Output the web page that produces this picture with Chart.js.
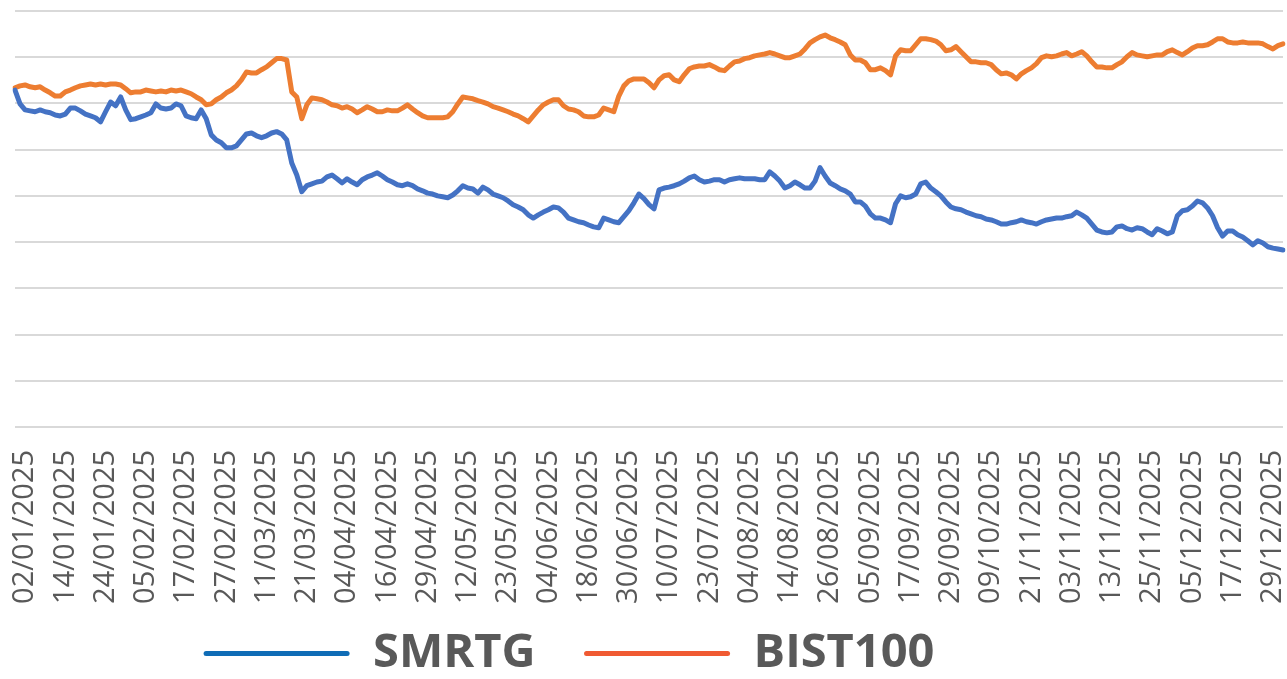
<!DOCTYPE html>
<html>
<head>
<meta charset="utf-8">
<title>SMRTG vs BIST100</title>
<script src="https://cdn.jsdelivr.net/npm/chart.js@4.4.1/dist/chart.umd.min.js"></script>
<style>
  html, body { margin: 0; padding: 0; background: #fff; }
  #wrap { width: 1287px; height: 679px; position: relative; }
</style>
</head>
<body>
<div id="wrap"><canvas id="perfChart"></canvas></div>
<script>
// x axis labels, one every 8 trading days
const tickLabels = [
  "02/01/2025", "14/01/2025", "24/01/2025", "05/02/2025", "17/02/2025", "27/02/2025",
  "11/03/2025", "21/03/2025", "04/04/2025", "16/04/2025", "29/04/2025", "12/05/2025",
  "23/05/2025", "04/06/2025", "18/06/2025", "30/06/2025", "10/07/2025", "23/07/2025",
  "04/08/2025", "14/08/2025", "26/08/2025", "05/09/2025", "17/09/2025", "29/09/2025",
  "09/10/2025", "21/11/2025", "03/11/2025", "13/11/2025", "25/11/2025", "05/12/2025",
  "17/12/2025", "29/12/2025"
];
const labelStart = 2;   // first labelled trading day
const labelStep = 8;

const smrtg = [
  72.9, 69.9, 68.6, 68.4, 68.2, 68.6, 68.2, 68.0, 67.5, 67.3,
  67.7, 69.0, 69.0, 68.4, 67.7, 67.3, 66.9, 66.0, 68.2, 70.3,
  69.5, 71.4, 68.6, 66.5, 66.7, 67.1, 67.5, 68.0, 69.9, 69.0,
  68.8, 69.0, 69.9, 69.5, 67.3, 66.9, 66.7, 68.6, 66.7, 63.2,
  62.1, 61.5, 60.4, 60.4, 60.8, 62.1, 63.4, 63.6, 63.0, 62.6,
  63.0, 63.6, 63.9, 63.4, 62.1, 57.1, 54.5, 50.9, 52.2, 52.6,
  53.0, 53.2, 54.1, 54.5, 53.7, 52.8, 53.7, 53.0, 52.4, 53.5,
  54.1, 54.5, 55.0, 54.3, 53.5, 53.0, 52.4, 52.2, 52.6, 52.2,
  51.5, 51.1, 50.6, 50.4, 50.0, 49.8, 49.6, 50.2, 51.1, 52.2,
  51.7, 51.5, 50.6, 51.9, 51.3, 50.4, 50.0, 49.6, 48.9, 48.1,
  47.6, 47.0, 45.9, 45.2, 45.9, 46.5, 47.0, 47.6, 47.4, 46.5,
  45.2, 44.8, 44.4, 44.2, 43.7, 43.3, 43.1, 45.2, 44.8, 44.4,
  44.2, 45.5, 46.8, 48.5, 50.4, 49.4, 48.1, 47.2, 51.3, 51.7,
  51.9, 52.2, 52.6, 53.2, 53.9, 54.3, 53.5, 53.0, 53.2, 53.5,
  53.5, 53.0, 53.5, 53.7, 53.9, 53.7, 53.7, 53.7, 53.5, 53.5,
  55.2, 54.3, 53.2, 51.7, 52.2, 53.0, 52.4, 51.7, 51.7, 53.2,
  56.1, 54.3, 52.8, 52.2, 51.5, 51.1, 50.4, 48.7, 48.7, 47.8,
  46.1, 45.2, 45.2, 44.8, 44.2, 48.3, 50.0, 49.6, 49.8, 50.4,
  52.6, 53.0, 51.7, 50.9, 50.0, 48.7, 47.6, 47.2, 47.0, 46.5,
  46.1, 45.7, 45.5, 45.0, 44.8, 44.4, 43.9, 43.9, 44.2, 44.4,
  44.8, 44.4, 44.2, 43.9, 44.4, 44.8, 45.0, 45.2, 45.2, 45.5,
  45.7, 46.5, 45.9, 45.2, 43.9, 42.6, 42.2, 42.0, 42.2, 43.3,
  43.5, 42.9, 42.6, 43.1, 42.9, 42.2, 41.6, 42.9, 42.4, 41.8,
  42.2, 45.7, 46.8, 47.0, 47.8, 48.9, 48.5, 47.4, 45.7, 43.1,
  41.3, 42.4, 42.4, 41.6, 41.1, 40.3, 39.4, 40.3, 39.8, 39.0,
  38.7, 38.5, 38.3
];

const bist100 = [
  73.4, 73.8, 74.0, 73.6, 73.4, 73.6, 72.9, 72.3, 71.6, 71.6,
  72.5, 72.9, 73.4, 73.8, 74.0, 74.2, 74.0, 74.2, 74.0, 74.2,
  74.2, 74.0, 73.2, 72.3, 72.5, 72.5, 72.9, 72.7, 72.5, 72.7,
  72.5, 72.9, 72.7, 72.9, 72.5, 72.1, 71.4, 70.8, 69.7, 69.9,
  70.8, 71.4, 72.3, 72.9, 73.8, 75.1, 76.8, 76.6, 76.6, 77.3,
  77.9, 78.8, 79.7, 79.7, 79.4, 72.5, 71.4, 66.7, 69.7, 71.2,
  71.0, 70.8, 70.3, 69.7, 69.5, 69.0, 69.3, 68.8, 68.0, 68.6,
  69.3, 68.8, 68.2, 68.2, 68.6, 68.4, 68.4, 69.0, 69.7, 68.8,
  68.0, 67.3, 66.9, 66.9, 66.9, 66.9, 67.1, 68.2, 69.9, 71.4,
  71.2, 71.0, 70.6, 70.3, 69.9, 69.3, 69.0, 68.6, 68.2, 67.7,
  67.3, 66.7, 66.0, 67.3, 68.6, 69.7, 70.3, 70.8, 70.8, 69.5,
  68.8, 68.6, 68.2, 67.3, 67.1, 67.1, 67.5, 69.0, 68.6, 68.2,
  71.6, 73.8, 74.9, 75.3, 75.3, 75.3, 74.5, 73.4, 75.1, 76.0,
  76.2, 75.1, 74.7, 76.2, 77.5, 77.9, 78.1, 78.1, 78.4, 77.9,
  77.3, 77.1, 78.1, 79.0, 79.2, 79.7, 79.9, 80.3, 80.5, 80.7,
  81.0, 80.7, 80.3, 79.9, 79.9, 80.3, 80.7, 81.8, 83.1, 83.8,
  84.4, 84.8, 84.2, 83.8, 83.3, 82.7, 80.5, 79.4, 79.4, 78.8,
  77.3, 77.3, 77.7, 77.1, 76.2, 80.3, 81.6, 81.4, 81.4, 82.7,
  84.0, 84.0, 83.8, 83.5, 82.7, 81.4, 81.6, 82.3, 81.2, 80.1,
  79.0, 79.0, 78.8, 78.8, 78.4, 77.3, 76.4, 76.6, 76.2, 75.3,
  76.4, 77.1, 77.7, 78.6, 79.9, 80.3, 80.1, 80.3, 80.7, 81.0,
  80.3, 80.7, 81.2, 80.3, 79.0, 77.9, 77.9, 77.7, 77.7, 78.4,
  79.0, 80.1, 81.0, 80.5, 80.3, 80.1, 80.3, 80.5, 80.5, 81.2,
  81.6, 81.0, 80.5, 81.2, 82.0, 82.5, 82.5, 82.7, 83.3, 84.0,
  84.0, 83.3, 83.1, 83.1, 83.3, 83.1, 83.1, 83.1, 82.9, 82.3,
  81.8, 82.5, 82.9
];

// one category per trading day, only every 8th one gets a text
const categories = [];
for (let i = 0; i < smrtg.length; i++) {
  const k = (i - labelStart) / labelStep;
  categories.push(Number.isInteger(k) && k >= 0 && k < tickLabels.length ? tickLabels[k] : "");
}

const textGrey = "#595959";

// legend sits a bit left and lower than chart.js would put it,
// and the x labels may run below the shortened x scale box
const layoutFix = {
  id: "layoutFix",
  afterLayout(chart) {
    const lg = chart.legend;
    if (lg) {
      lg.left -= 80;
      lg.right -= 80;
      lg.top += 8;
      lg.bottom += 8;
    }
    chart.scales.x.bottom = chart.height;
  }
};

const graph = document.getElementById("perfChart");

new Chart(graph, {
  type: "line",
  data: {
    labels: categories,
    datasets: [
      {
        label: "SMRTG",
        data: smrtg,
        borderColor: "#4472c4",
        legendColor: "#0f6cb6",
        borderWidth: 5,
        pointRadius: 0,
        tension: 0,
        borderJoinStyle: "round",
        borderCapStyle: "round"
      },
      {
        label: "BIST100",
        data: bist100,
        borderColor: "#ed7d31",
        legendColor: "#f05a32",
        borderWidth: 5,
        pointRadius: 0,
        tension: 0,
        borderJoinStyle: "round",
        borderCapStyle: "round"
      }
    ]
  },
  options: {
    responsive: true,
    maintainAspectRatio: false,
    animation: false,
    devicePixelRatio: 1,
    layout: {
      padding: { left: 15, right: 4, top: 11, bottom: 0 }
    },
    plugins: {
      tooltip: { enabled: false },
      legend: {
        position: "bottom",
        labels: {
          boxWidth: 146,
          boxHeight: 5,
          padding: 48.5,
          color: textGrey,
          font: { family: "'Open Sans'", size: 47, weight: "bold" },
          generateLabels: function(chart) {
            return chart.data.datasets.map((ds, i) => ({
              text: ds.label,
              fillStyle: ds.legendColor,
              strokeStyle: ds.legendColor,
              lineWidth: 0,
              borderRadius: 2.5,
              fontColor: textGrey,
              hidden: false,
              datasetIndex: i
            }));
          }
        }
      }
    },
    scales: {
      x: {
        grid: { display: false },
        border: { display: false },
        afterFit: function(scale) {
          scale.height = 146.5;
          scale.paddingLeft = 0;
          scale.paddingRight = 0;
        },
        ticks: {
          autoSkip: false,
          maxRotation: 90,
          minRotation: 90,
          padding: 15,
          color: textGrey,
          font: { family: "'Open Sans'", size: 29 }
        }
      },
      y: {
        min: 0,
        max: 90,
        border: { display: false },
        grid: {
          color: "#d9d9d9",
          lineWidth: 2,
          drawTicks: false
        },
        ticks: {
          display: false,
          stepSize: 10
        }
      }
    }
  },
  plugins: [layoutFix]
});
</script>
</body>
</html>
